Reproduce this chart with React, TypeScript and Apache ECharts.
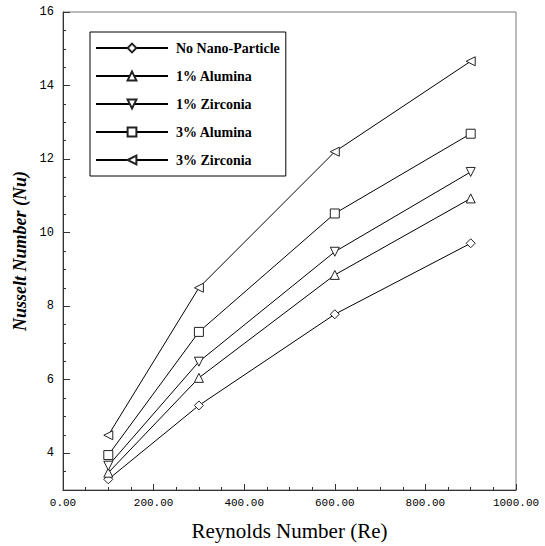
import React, { useEffect, useRef } from "react";
import * as echarts from "echarts";

const reynolds = [100, 300, 600, 900];
const noNano = [3.29, 5.3, 7.78, 9.71];
const alumina1 = [3.47, 6.05, 8.85, 10.93];
const zirconia1 = [3.66, 6.49, 9.48, 11.65];
const alumina3 = [3.95, 7.3, 10.52, 12.69];
const zirconia3 = [4.49, 8.5, 12.2, 14.66];
const seriesNames = ["No Nano-Particle", "1% Alumina", "1% Zirconia", "3% Alumina", "3% Zirconia"];
const yTickLabels = [4, 6, 8, 10, 12, 14, 16];

const SERIF = "Liberation Serif";
const TICKFONT = "Liberation Mono";

export default function App() {
  const ref = useRef<HTMLDivElement>(null);
  useEffect(() => {
    if (!ref.current) return;
    const chart = echarts.init(ref.current, null, { renderer: "svg" });
    const values = [noNano, alumina1, zirconia1, alumina3, zirconia3];
    const symbols = ["diamond", "triangle", "triangle", "rect", "triangle"];
    const rotations = [0, 0, 180, 0, 90];
    const series = values.map((vals, i) => ({
      type: "line",
      name: seriesNames[i],
      xAxisIndex: 0,
      yAxisIndex: 0,
      data: vals.map((v, j) => [reynolds[j], v]),
      symbol: symbols[i],
      symbolRotate: rotations[i],
      symbolSize: 9,
      showAllSymbol: true,
      lineStyle: { color: "#000", width: 1 },
      itemStyle: { color: "#fff", borderColor: "#222", borderWidth: 1 },
      emphasis: { disabled: true },
    }));
    chart.setOption({
      animation: false,
      backgroundColor: "#fff",
      grid: {
        left: 63,
        right: 29,
        top: 12,
        bottom: 49,
        show: true,
        borderColor: "#777",
        borderWidth: 1,
      },
      legend: {
        orient: "vertical",
        left: 90,
        top: 32,
        padding: [9, 6, 9, 5],
        itemGap: 14,
        itemWidth: 72,
        itemHeight: 11,
        borderColor: "#000",
        borderWidth: 1,
        backgroundColor: "#fff",
        textStyle: {
          fontFamily: SERIF,
          fontWeight: "bold",
          fontSize: 14,
          color: "#000",
          padding: [0, 0, 0, 3],
        },
        data: seriesNames,
      },
      xAxis: [
        {
          type: "value",
          min: 0,
          max: 1000,
          interval: 200,
          name: "Reynolds Number (Re)",
          nameLocation: "middle",
          nameGap: 30,
          nameTextStyle: { fontFamily: SERIF, fontSize: 21, color: "#000" },
          axisLine: { show: true, lineStyle: { color: "#333", width: 1 } },
          axisTick: { show: true, inside: true, length: 6, lineStyle: { color: "#333" } },
          minorTick: { show: true, splitNumber: 4, length: 3, lineStyle: { color: "#333" } },
          axisLabel: {
            margin: 7,
            fontFamily: TICKFONT,
            fontSize: 11,
            color: "#000",
            formatter: (v: number) => v.toFixed(2),
          },
          splitLine: { show: false },
        },
      ],
      yAxis: [
        {
          type: "value",
          min: 3,
          max: 16,
          interval: 0.5,
          axisLine: { show: true, lineStyle: { color: "#333", width: 1 } },
          axisTick: { show: true, inside: true, length: 3, lineStyle: { color: "#333" } },
          axisLabel: { show: false },
          splitLine: { show: false },
        },
        {
          type: "value",
          position: "left",
          min: 3,
          max: 16,
          name: "Nusselt Number (Nu)",
          nameLocation: "middle",
          nameGap: 31,
          nameTextStyle: {
            fontFamily: SERIF,
            fontSize: 18,
            fontStyle: "italic",
            fontWeight: "bold",
            color: "#000",
          },
          axisLine: { show: false },
          axisTick: {
            show: true,
            inside: true,
            length: 7,
            customValues: yTickLabels,
            lineStyle: { color: "#333" },
          },
          axisLabel: {
            margin: 9,
            fontFamily: TICKFONT,
            fontSize: 12,
            color: "#000",
            customValues: yTickLabels,
          },
          splitLine: { show: false },
        },
      ],
      series,
    });
    return () => chart.dispose();
  }, []);
  return (
    <div
      ref={ref}
      style={{ position: "absolute", left: 0, top: 0, width: 545, height: 546 }}
    />
  );
}
